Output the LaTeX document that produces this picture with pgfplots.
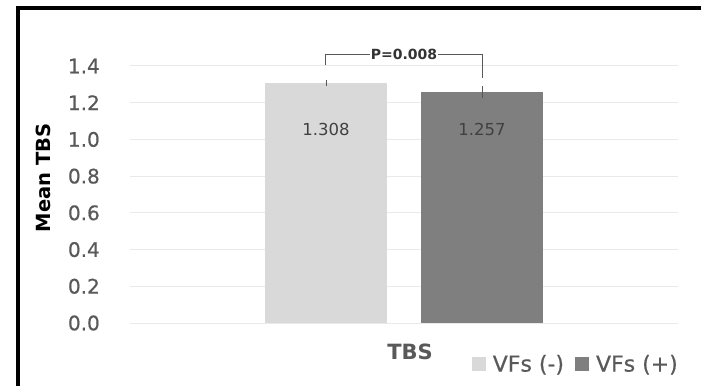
\documentclass[border=0pt]{standalone}
\usepackage{fontspec}
\setmainfont{DejaVu Sans}
\newfontfamily\semibold[FakeBold=0.6]{DejaVu Sans}
\usepackage{pgfplots}
\pgfplotsset{compat=1.18}
\definecolor{barlight}{HTML}{D9D9D9}
\definecolor{bardark}{HTML}{7F7F7F}
\definecolor{ticktext}{HTML}{595959}
\definecolor{gridc}{HTML}{E9E9E9}
\definecolor{valtext}{HTML}{404040}
\begin{document}
\begin{tikzpicture}[x=1pt,y=1pt]
\path[use as bounding box, fill=white] (0,0) rectangle (701,386);
% frame on the top and left
\fill[black] (16,0) rectangle (20,380);
\fill[black] (16,376) rectangle (701,380);
\begin{axis}[
  at={(130pt,63pt)}, anchor=south west,
  scale only axis, width=548pt, height=257pt,
  xmin=-0.256, xmax=3.256, ymin=0, ymax=1.4,
  axis line style={draw=none}, tick style={draw=none},
  xtick=\empty,
  ytick={0,0.2,...,1.4},
  ymajorgrids, grid style={gridc, line width=1pt},
  yticklabel style={font=\fontsize{20}{20}\semibold, text=ticktext, inner sep=0pt, xshift=-30pt},
  /pgf/number format/assume math mode=true,
  /pgf/number format/.cd, fixed, fixed zerofill, precision=1, /pgfplots/.cd,
  clip=false,
  legend style={at={(1,0)}, anchor=east, xshift=2pt, yshift=-41pt, draw=none, fill=none, inner sep=0pt,
    font=\fontsize{22}{22}\semibold, text=ticktext,
    /tikz/every odd column/.append style={column sep=5pt},
    /tikz/every even column/.append style={column sep=9pt}},
  legend columns=2,
  legend image code/.code={\fill[#1] (0pt,-7pt) rectangle (14pt,7pt);},
]
\addplot[ybar, bar width=122pt, bar shift=0pt, fill=barlight, draw=none,
  error bars/.cd, y dir=both, y explicit, error bar style={ticktext, line width=0.8pt}, error mark options={ticktext, mark size=3pt, line width=0.8pt}]
  coordinates {(1,1.308) +- (0,0.002)};
\addlegendentry{VFs (-)}
\addplot[ybar, bar width=122pt, bar shift=0pt, fill=bardark, draw=none,
  error bars/.cd, y dir=both, y explicit, error bar style={ticktext, line width=0.8pt}, error mark options={ticktext, mark size=3pt, line width=0.8pt}]
  coordinates {(2,1.257) +- (0,0.016)};
\addlegendentry{VFs (+)}
% value labels inside the bars
\node[font=\fontsize{16.5}{16.5}\selectfont, text=valtext] at (axis cs:1,1.054) {1.308};
\node[font=\fontsize{16.5}{16.5}\selectfont, text=valtext] at (axis cs:2,1.054) {1.257};
% significance bracket
\draw[ticktext, line width=1pt] (axis cs:0.994,1.405) |- (axis cs:2.003,1.465) -- (axis cs:2.003,1.334);
\node[fill=white, inner sep=1pt, font=\fontsize{14}{14}\selectfont\bfseries, text=black!80] at (axis cs:1.5,1.465) {P=0.008};
\end{axis}
% category and axis titles
\node[font=\fontsize{21}{21}\selectfont\bfseries, text=ticktext] at (410,34) {TBS};
\node[rotate=90, font=\fontsize{19.5}{19.5}\selectfont\bfseries, text=black] at (43,208) {Mean TBS};
\end{tikzpicture}
\end{document}
